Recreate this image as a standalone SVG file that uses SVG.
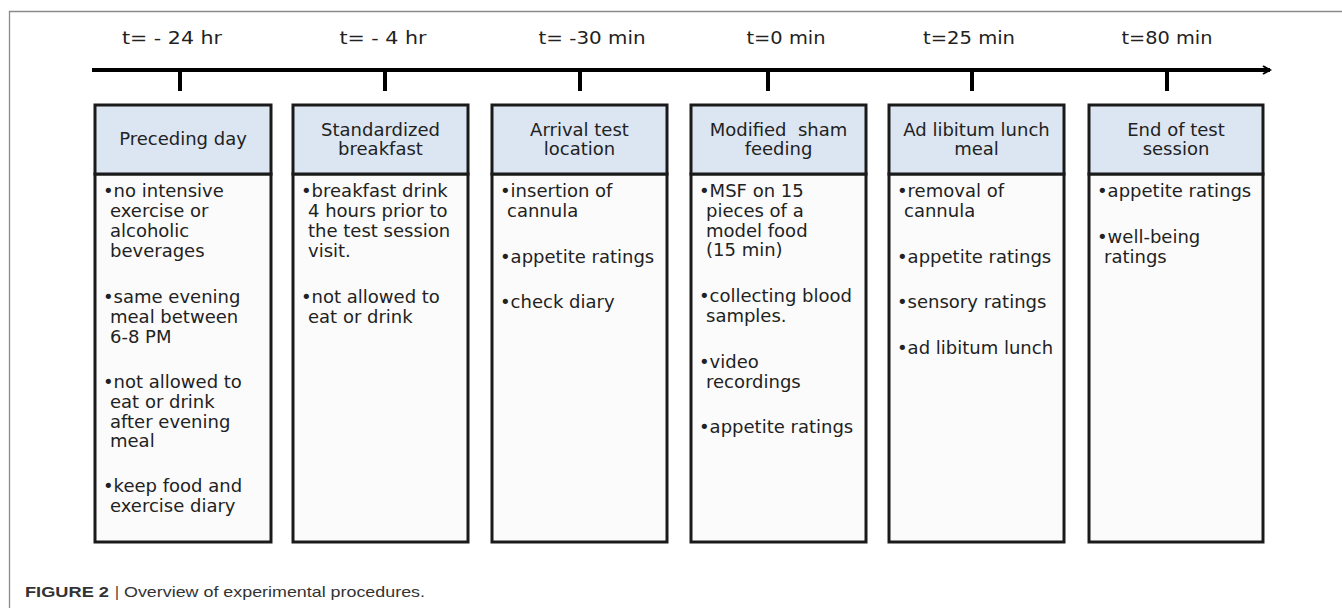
<svg xmlns="http://www.w3.org/2000/svg" width="1342" height="608" viewBox="0 0 1342 608">
<style>
.frame{fill:none;stroke:#8a8a8a;stroke-width:1.3}
.axis{fill:none;stroke:#000;stroke-width:4;stroke-linecap:butt}
.tick{stroke:#000;stroke-width:4}
.lbl{font-family:"DejaVu Sans",Verdana,sans-serif;font-size:18.5px;fill:#222;text-anchor:middle}
.hdr{fill:#dce6f2;stroke:#1a1a1a;stroke-width:3}
.body{fill:#fbfbfb;stroke:#1a1a1a;stroke-width:3}
.ht{font-family:"DejaVu Sans",Verdana,sans-serif;font-size:18px;fill:#222;text-anchor:middle}
.bt{font-family:"DejaVu Sans",Verdana,sans-serif;font-size:18px;fill:#222}
.cap{font-family:"Liberation Sans",Arial,sans-serif;font-size:15px;fill:#333}
</style>
<defs>
<marker id="arr" markerWidth="10" markerHeight="10" refX="0" refY="0" orient="auto" markerUnits="userSpaceOnUse" viewBox="-16 -10 20 20" overflow="visible">
<polyline points="-14,-8 0,0 -14,8" fill="none" stroke="#000" stroke-width="4"/>
</marker>
</defs>
<rect width="1342" height="608" fill="#fff"/>
<path class="frame" d="M9.5,608 V11.5 H1342"/>

<g id="connectors">
<line class="axis" x1="92" y1="70" x2="1270" y2="70" marker-end="url(#arr)"/>
<line class="tick" x1="180" y1="70" x2="180" y2="91"/>
<line class="tick" x1="385" y1="70" x2="385" y2="91"/>
<line class="tick" x1="580" y1="70" x2="580" y2="91"/>
<line class="tick" x1="768" y1="70" x2="768" y2="91"/>
<line class="tick" x1="972" y1="70" x2="972" y2="91"/>
<line class="tick" x1="1167" y1="70" x2="1167" y2="91"/>
</g>

<g id="timelabels">
<text class="lbl" x="172" y="44" textLength="100" lengthAdjust="spacingAndGlyphs" xml:space="preserve">t= - 24 hr</text>
<text class="lbl" x="383" y="44" textLength="87" lengthAdjust="spacingAndGlyphs" xml:space="preserve">t= - 4 hr</text>
<text class="lbl" x="592" y="44" textLength="107" lengthAdjust="spacingAndGlyphs">t= -30 min</text>
<text class="lbl" x="786" y="44" textLength="79" lengthAdjust="spacingAndGlyphs">t=0 min</text>
<text class="lbl" x="969" y="44" textLength="92" lengthAdjust="spacingAndGlyphs">t=25 min</text>
<text class="lbl" x="1167" y="44" textLength="91" lengthAdjust="spacingAndGlyphs">t=80 min</text>
</g>

<g id="node1">
<rect class="body" x="95" y="174" width="176" height="368"/>
<rect class="hdr" x="95" y="105" width="176" height="69"/>
<text class="ht" x="183" y="145">Preceding day</text>
<text class="bt" x="103" y="197">•no intensive</text>
<text class="bt" x="110" y="217">exercise or</text>
<text class="bt" x="110" y="237">alcoholic</text>
<text class="bt" x="110" y="257">beverages</text>
<text class="bt" x="103" y="303">•same evening</text>
<text class="bt" x="110" y="323">meal between</text>
<text class="bt" x="110" y="343">6-8 PM</text>
<text class="bt" x="103" y="388">•not allowed to</text>
<text class="bt" x="110" y="408">eat or drink</text>
<text class="bt" x="110" y="428">after evening</text>
<text class="bt" x="110" y="447">meal</text>
<text class="bt" x="103" y="492">•keep food and</text>
<text class="bt" x="110" y="512">exercise diary</text>
</g>

<g id="node2">
<rect class="body" x="293" y="174" width="175" height="368"/>
<rect class="hdr" x="293" y="105" width="175" height="69"/>
<text class="ht" x="380.5" y="136">Standardized</text>
<text class="ht" x="380.5" y="155">breakfast</text>
<text class="bt" x="301" y="197">•breakfast drink</text>
<text class="bt" x="308" y="217">4 hours prior to</text>
<text class="bt" x="308" y="237">the test session</text>
<text class="bt" x="308" y="257">visit.</text>
<text class="bt" x="301" y="303">•not allowed to</text>
<text class="bt" x="308" y="323">eat or drink</text>
</g>

<g id="node3">
<rect class="body" x="492" y="174" width="175" height="368"/>
<rect class="hdr" x="492" y="105" width="175" height="69"/>
<text class="ht" x="579.5" y="136">Arrival test</text>
<text class="ht" x="579.5" y="155">location</text>
<text class="bt" x="500" y="197">•insertion of</text>
<text class="bt" x="507" y="217">cannula</text>
<text class="bt" x="500" y="263">•appetite ratings</text>
<text class="bt" x="500" y="308">•check diary</text>
</g>

<g id="node4">
<rect class="body" x="691" y="174" width="175" height="368"/>
<rect class="hdr" x="691" y="105" width="175" height="69"/>
<text class="ht" x="778.5" y="136" xml:space="preserve">Modified  sham</text>
<text class="ht" x="778.5" y="155">feeding</text>
<text class="bt" x="699" y="197">•MSF on 15</text>
<text class="bt" x="706" y="217">pieces of a</text>
<text class="bt" x="706" y="237">model food</text>
<text class="bt" x="706" y="256">(15 min)</text>
<text class="bt" x="699" y="302">•collecting blood</text>
<text class="bt" x="706" y="322">samples.</text>
<text class="bt" x="699" y="368">•video</text>
<text class="bt" x="706" y="388">recordings</text>
<text class="bt" x="699" y="433">•appetite ratings</text>
</g>

<g id="node5">
<rect class="body" x="889" y="174" width="175" height="368"/>
<rect class="hdr" x="889" y="105" width="175" height="69"/>
<text class="ht" x="976.5" y="136">Ad libitum lunch</text>
<text class="ht" x="976.5" y="155">meal</text>
<text class="bt" x="897" y="197">•removal of</text>
<text class="bt" x="904" y="217">cannula</text>
<text class="bt" x="897" y="263">•appetite ratings</text>
<text class="bt" x="897" y="308">•sensory ratings</text>
<text class="bt" x="897" y="354">•ad libitum lunch</text>
</g>

<g id="node6">
<rect class="body" x="1089" y="174" width="174" height="368"/>
<rect class="hdr" x="1089" y="105" width="174" height="69"/>
<text class="ht" x="1176" y="136">End of test</text>
<text class="ht" x="1176" y="155">session</text>
<text class="bt" x="1097" y="197">•appetite ratings</text>
<text class="bt" x="1097" y="243">•well-being</text>
<text class="bt" x="1104" y="263">ratings</text>
</g>

<g id="caption">
<text class="cap" x="25" y="597" font-weight="bold" fill="#222" textLength="84" lengthAdjust="spacingAndGlyphs">FIGURE 2</text>
<text class="cap" x="115" y="597" fill="#888">|</text>
<text class="cap" x="124" y="597" textLength="301" lengthAdjust="spacingAndGlyphs">Overview of experimental procedures.</text>
</g>
</svg>
